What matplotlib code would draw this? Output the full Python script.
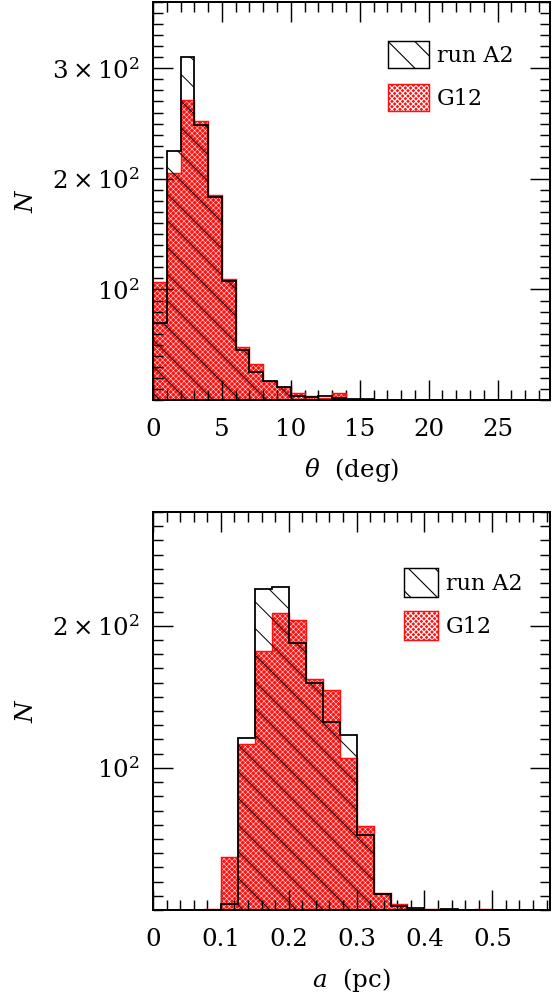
import numpy as np
import matplotlib
matplotlib.use("Agg")
import matplotlib.pyplot as plt
from matplotlib.patches import Rectangle
from matplotlib.ticker import MultipleLocator

DPI = 80

# opening angle histogram, 1 deg bins
theta_edges = [0, 1, 2, 3, 4, 5, 6, 7, 8, 9, 10, 11, 12, 13, 14, 15, 16]
theta_a2 = [70, 225, 310, 249, 184, 108, 45, 25, 17.5, 12, 3.5, 2.5, 4, 2, 1, 1]
theta_g12 = [107, 205, 271, 252, 185, 109, 48, 32.5, 17, 12, 6.5, 4, 2, 6, 0, 0]

# semi-major axis histogram, 0.025 pc bins
a_edges = [0.075, 0.1, 0.125, 0.15, 0.175, 0.2, 0.225, 0.25, 0.275, 0.3,
           0.325, 0.35, 0.375, 0.4, 0.425, 0.45, 0.475, 0.5]
a_a2 = [0, 4, 121, 226, 227, 188, 160, 132, 123, 53, 11.5, 2.5, 1.5, 0, 0.5, 0, 0]
a_g12 = [1, 37, 116.5, 182, 209, 204, 162.5, 155, 107, 59, 12, 4, 0.5, 0.5, 0, 0, 0.5]

plt.rcParams["font.family"] = ["DejaVu Serif"]
plt.rcParams["mathtext.fontset"] = "dejavuserif"

RED = "#ff1010"
RED_HATCH = "xxxxx"
RED_HLW = 0.45
BLACK_HLW = 0.9


def red_fill_kw():
    return dict(facecolor=RED, edgecolor="white", linewidth=0, hatch=RED_HATCH)


def draw_hist(ax, edges, a2, g12):
    with plt.rc_context({"hatch.linewidth": RED_HLW}):
        ax.stairs(g12, edges, fill=True, zorder=1, **red_fill_kw())
    ax.stairs(g12, edges, fill=False, color=RED, linewidth=1.3, zorder=2)
    with plt.rc_context({"hatch.linewidth": BLACK_HLW}):
        ax.stairs(a2, edges, fill=True, facecolor="none", edgecolor="black",
                  linewidth=0, hatch="\\", zorder=3)
    ax.stairs(a2, edges, fill=False, color="black", linewidth=1.6, zorder=4)


def style_axes(ax):
    for s in ax.spines.values():
        s.set_linewidth(1.8)
        s.set_zorder(6)
    ax.tick_params(which="both", direction="in", top=True, right=True,
                   labelsize=22, width=1.3)
    ax.tick_params(axis="x", pad=16)
    ax.tick_params(axis="y", pad=12)
    ax.tick_params(which="major", length=18)
    ax.tick_params(which="minor", length=9)


def add_legend(ax, x, y, hl, hh, gap):
    with plt.rc_context({"hatch.linewidth": BLACK_HLW}):
        black = Rectangle((0, 0), 1, 1, facecolor="none", edgecolor="black",
                          linewidth=1.3, hatch="\\")
    with plt.rc_context({"hatch.linewidth": RED_HLW}):
        red_fill = Rectangle((0, 0), 1, 1, **red_fill_kw())
    red_edge = Rectangle((0, 0), 1, 1, facecolor="none", edgecolor=RED,
                         linewidth=1.3)
    ax.legend([black, (red_fill, red_edge)], ["run A2", "G12"],
              loc="upper left", bbox_to_anchor=(x, y), frameon=False,
              fontsize=20, handlelength=hl, handleheight=hh,
              handletextpad=0.36, labelspacing=gap, borderpad=0,
              borderaxespad=0)


fig = plt.figure(figsize=(553 / DPI, 994 / DPI), dpi=DPI)
left, width = 153 / 553, 397 / 553
ax1 = fig.add_axes([left, 1 - 400 / 994, width, 398 / 994])
ax2 = fig.add_axes([left, 1 - 910 / 994, width, 398 / 994])

# top: theta
draw_hist(ax1, theta_edges, theta_a2, theta_g12)
ax1.set_xlim(0, 28.8)
ax1.set_ylim(0, 360)
ax1.xaxis.set_major_locator(MultipleLocator(5))
ax1.xaxis.set_minor_locator(MultipleLocator(1))
ax1.set_yticks([100, 200, 300])
ax1.set_yticklabels([r"$10^2$", r"$2\times10^2$", r"$3\times10^2$"])
ax1.yaxis.set_minor_locator(MultipleLocator(10))
style_axes(ax1)
ax1.set_xlabel(r"$\theta$  (deg)", fontsize=22, labelpad=14)
ax1.set_ylabel(r"$N$", fontsize=22, labelpad=12)
add_legend(ax1, 0.592, 0.902, 1.85, 1.49, 0.72)

# bottom: a
draw_hist(ax2, a_edges, a_a2, a_g12)
ax2.set_xlim(0, 0.585)
ax2.set_ylim(0, 280)
ax2.xaxis.set_minor_locator(MultipleLocator(0.02))
ax2.set_xticks([0, 0.1, 0.2, 0.3, 0.4, 0.5])
ax2.set_xticklabels(["0", "0.1", "0.2", "0.3", "0.4", "0.5"])
ax2.set_yticks([100, 200])
ax2.set_yticklabels([r"$10^2$", r"$2\times10^2$"])
ax2.yaxis.set_minor_locator(MultipleLocator(10))
style_axes(ax2)
ax2.set_xlabel(r"$a$  (pc)", fontsize=22, labelpad=14)
ax2.set_ylabel(r"$N$", fontsize=22, labelpad=12)
add_legend(ax2, 0.632, 0.859, 1.53, 1.63, 0.63)

fig.savefig("out.png", dpi=DPI)
